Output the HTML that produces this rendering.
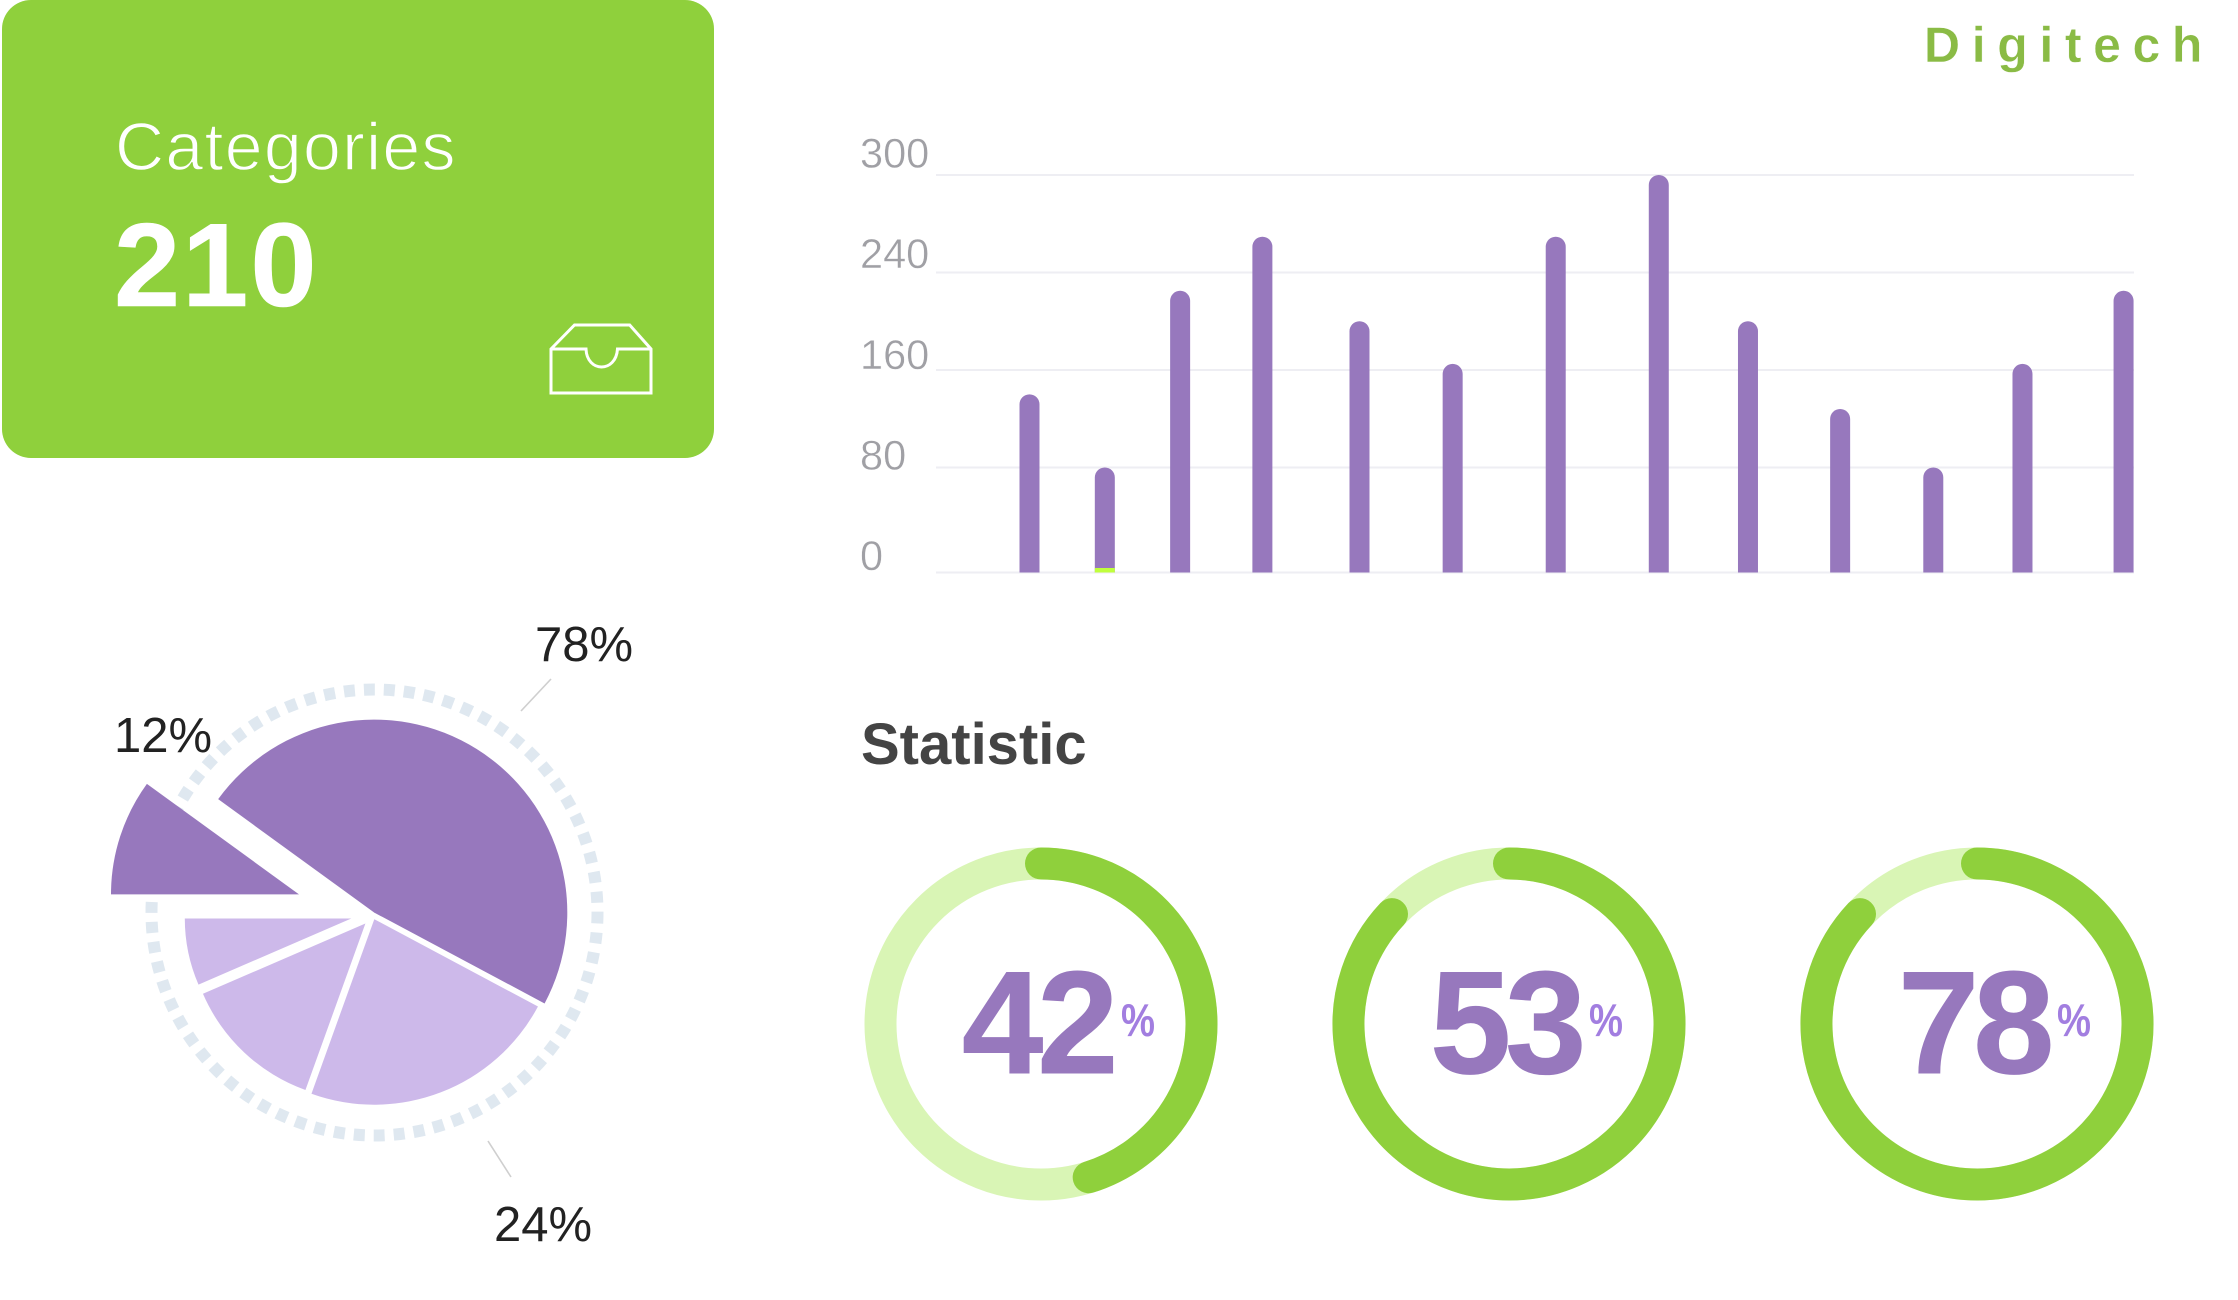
<!DOCTYPE html>
<html lang="en">
<head>
<meta charset="utf-8">
<title>Digitech dashboard</title>
<style>
html,body{margin:0;padding:0;background:#fff;width:2238px;height:1300px;overflow:hidden}
svg{display:block;font-family:"Liberation Sans",Arial,sans-serif}
</style>
</head>
<body>
<svg id="stage" width="2238" height="1300" viewBox="0 0 2238 1300" xmlns="http://www.w3.org/2000/svg">
  <rect x="2" y="0" width="712" height="458" rx="29" fill="#8fd03c"/>
  <text x="115" y="170" font-size="68" letter-spacing="1.3" fill="#fff" stroke="#8fd03c" stroke-width="1.4">Categories</text>
  <text x="114" y="306" font-size="119" font-weight="700" letter-spacing="2" fill="#fff" stroke="#fff" stroke-width="0.6">210</text>
  <g fill="none" stroke="#fff" stroke-width="3" transform="translate(-5 0)">
    <path d="M556 349 L579.5 325 H634.7 L656 349 V393 H556 Z"/>
    <path d="M556 349 H591 C592 373 621 373 622.5 349 H656"/>
  </g>
  <text x="1924" y="62" font-size="50" font-weight="700" letter-spacing="11.6" fill="#8abb45" stroke="#fff" stroke-width="0.4">Digitech</text>
  <text x="861" y="764" font-size="58" font-weight="700" fill="#444">Statistic</text>
  <g id="bar-chart"></g>
  <g id="pie-chart"></g>
  <g id="donut-charts"></g>
</svg>
<script>
// Bar chart data
const barTicks = [0, 80, 160, 240, 300];
const barOffsets = [0, 7.6, 15.2, 23.5, 33.3, 42.7, 53.1, 63.5, 72.5, 81.8, 91.2, 100.2, 110.4];
const barValues = [140, 80, 225, 262, 200, 165, 262, 300, 200, 128, 80, 165, 225];
// Pie chart data
const pieShares = [47.8, 22.7, 13, 6.5, 10];
const pieLabels = ['78%', '24%', '12%'];
// Donut data
const donutLabels = [42, 53, 78];
const donutFill = [45.2, 87, 87];

const NS = 'http://www.w3.org/2000/svg';
function make(tag, parent, attrs) {
  const el = document.createElementNS(NS, tag);
  for (const k in attrs) el.setAttribute(k, attrs[k]);
  parent.appendChild(el);
  return el;
}

/* ---------- bar chart ---------- */
const barGroup = document.getElementById('bar-chart');
function xScale(v) { return 1029.5 + v * 9.91; }
function yScale(v) {
  // The axis is banded: each tick interval has a fixed height.
  const baseline = 572.5, firstBand = 105, band = 97.5;
  if (v <= barTicks[0]) return baseline;
  for (let i = 1; i < barTicks.length; i++) {
    if (v <= barTicks[i]) {
      const f = (v - barTicks[i - 1]) / (barTicks[i] - barTicks[i - 1]);
      const h = i === 1 ? firstBand : band;
      const below = i === 1 ? 0 : firstBand + band * (i - 2);
      return baseline - below - f * h;
    }
  }
  const last = barTicks.length - 1;
  return baseline - firstBand - band * (last - 1);
}
barTicks.forEach(function (t, i) {
  const y = yScale(t);
  const line = make('line', barGroup, { x1: 936, x2: 2134, y1: y, y2: y, stroke: '#eeeef3', 'stroke-width': 2 });
  
  
  const label = make('text', barGroup, { x: 860, y: 570 - i * 100.6, 'font-size': 41.5, fill: '#a0a0a5', 'stroke': '#fff', 'stroke-width': 0.4 });
  
  
  label.textContent = String(t);
});
barValues.forEach(function (v, i) {
  const cx = xScale(barOffsets[i]);
  const w = 20, r = 10, top = yScale(v), base = yScale(0);
  const d = 'M' + (cx - w / 2) + ' ' + base + ' V' + (top + r) +
    ' A' + r + ' ' + r + ' 0 0 1 ' + (cx + w / 2) + ' ' + (top + r) + ' V' + base + ' Z';
  const bar = make('path', barGroup, { d: d, fill: '#9778bd' });
  
  
  if (i === 1) {
    const tip = make('rect', barGroup, { x: cx - w / 2, y: base - 4.5, width: w, height: 4.5, fill: '#c0ff3c' });
    
    
  }
});

/* ---------- pie chart ---------- */
const pieGroup = document.getElementById('pie-chart');
const ring = make('circle', pieGroup, { cx: 374.5, cy: 912.5, r: 223, fill: 'none', stroke: '#dfe8f0', 'stroke-width': 12, 'stroke-dasharray': '11 9' });


const sliceGeometry = [
  { cx: 374.3, cy: 912.6, r: 193, fill: '#9778bd' },
  { cx: 374.3, cy: 919.2, r: 185.5, fill: '#cdb9ea' },
  { cx: 365.4, cy: 923.5, r: 177, fill: '#cdb9ea' },
  { cx: 351.3, cy: 918.5, r: 166.5, fill: '#cdb9ea' },
  { cx: 299, cy: 894.4, r: 188, fill: '#9778bd' }
];
let angle = -144;
pieShares.forEach(function (share, i) {
  const g = sliceGeometry[i];
  const sweep = share / 100 * 360;
  const a0 = angle * Math.PI / 180, a1 = (angle + sweep) * Math.PI / 180;
  const d = 'M' + g.cx + ' ' + g.cy +
    ' L' + (g.cx + g.r * Math.cos(a0)) + ' ' + (g.cy + g.r * Math.sin(a0)) +
    ' A' + g.r + ' ' + g.r + ' 0 ' + (sweep > 180 ? 1 : 0) + ' 1 ' +
    (g.cx + g.r * Math.cos(a1)) + ' ' + (g.cy + g.r * Math.sin(a1)) + ' Z';
  const slice = make('path', pieGroup, { d: d, fill: g.fill });
  
  
  angle += sweep;
});
const labelSpots = [{ x: 535, y: 661 }, { x: 494, y: 1241 }, { x: 114, y: 752 }];
pieLabels.forEach(function (txt, i) {
  const t = make('text', pieGroup, { x: labelSpots[i].x, y: labelSpots[i].y, 'font-size': 49, fill: '#222' });
  
  
  t.textContent = txt;
});
const leader1 = make('line', pieGroup, { x1: 521, y1: 711, x2: 551, y2: 679, stroke: '#cfcfcf', 'stroke-width': 1.6 });


const leader2 = make('line', pieGroup, { x1: 488, y1: 1141, x2: 511, y2: 1177, stroke: '#cfcfcf', 'stroke-width': 1.6 });



/* ---------- donuts ---------- */
const donutGroup = document.getElementById('donut-charts');
const donutCentersX = [1041, 1509, 1977];
donutLabels.forEach(function (label, i) {
  const cx = donutCentersX[i], cy = 1024, r = 160.5;
  const track = make('circle', donutGroup, { cx: cx, cy: cy, r: r, fill: 'none', stroke: '#d9f5b5', 'stroke-width': 32 });
  
  
  const a = donutFill[i] / 100 * 2 * Math.PI;
  const ex = cx + r * Math.sin(a), ey = cy - r * Math.cos(a);
  const d = 'M' + cx + ' ' + (cy - r) + ' A' + r + ' ' + r + ' 0 ' + (donutFill[i] > 50 ? 1 : 0) + ' 1 ' + ex + ' ' + ey;
  const arc = make('path', donutGroup, { d: d, fill: 'none', stroke: '#8fd03c', 'stroke-width': 32, 'stroke-linecap': 'round' });
  
  
  const num = make('text', donutGroup, { x: cx - 79, y: 1073, 'font-size': 146, 'font-weight': 700, 'letter-spacing': -6, fill: '#9778bd', stroke: '#9778bd', 'stroke-width': 1 });
  
  
  num.textContent = String(label);
  const pct = make('text', donutGroup, { x: cx + 80, y: 1036, 'font-size': 46, 'font-weight': 700, fill: '#a27ee0', textLength: 34, lengthAdjust: 'spacingAndGlyphs' });
  
  
  pct.textContent = '%';
});
</script>
</body>
</html>
